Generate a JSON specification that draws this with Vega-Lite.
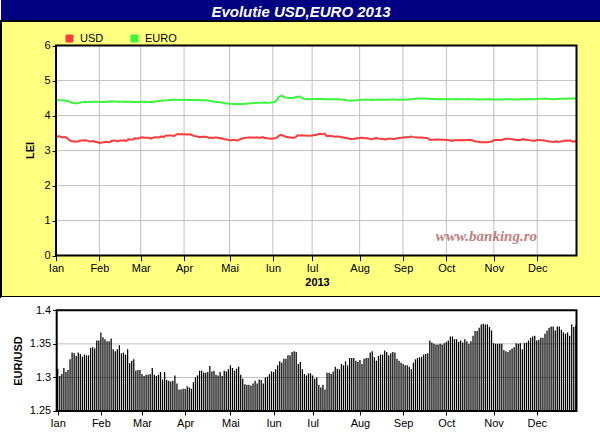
{
  "$schema": "https://vega.github.io/schema/vega-lite/v6.json",
  "padding": 0,
  "autosize": {"type": "pad"},
  "background": "#ffffff",
  "spacing": 0,
  "bounds": "flush",
  "config": {
    "view": {"stroke": null},
    "font": "Liberation Sans",
    "axis": {
      "domain": false, "grid": false,
      "labelFont": "Liberation Sans", "labelFontSize": 11, "labelColor": "#000000",
      "tickColor": "#000000", "tickWidth": 1, "tickSize": 4, "labelPadding": 2,
      "titleFont": "Liberation Sans", "titleFontSize": 11, "titleFontWeight": "bold", "titleColor": "#000000"
    }
  },
  "datasets": {
    "fx": [
      {"i":0,"USD":3.384,"EURO":4.443,"EURUSD":1.313},{"i":1,"USD":3.411,"EURO":4.441,"EURUSD":1.302},{"i":2,"USD":3.401,"EURO":4.438,"EURUSD":1.305},{"i":3,"USD":3.377,"EURO":4.437,"EURUSD":1.314},{"i":4,"USD":3.388,"EURO":4.432,"EURUSD":1.308},{"i":5,"USD":3.375,"EURO":4.425,"EURUSD":1.311},{"i":6,"USD":3.323,"EURO":4.410,"EURUSD":1.327},{"i":7,"USD":3.280,"EURO":4.385,"EURUSD":1.337},{"i":8,"USD":3.263,"EURO":4.360,"EURUSD":1.336},{"i":9,"USD":3.266,"EURO":4.350,"EURUSD":1.332},
      {"i":10,"USD":3.255,"EURO":4.352,"EURUSD":1.337},{"i":11,"USD":3.267,"EURO":4.362,"EURUSD":1.335},{"i":12,"USD":3.287,"EURO":4.375,"EURUSD":1.331},{"i":13,"USD":3.287,"EURO":4.385,"EURUSD":1.334},{"i":14,"USD":3.293,"EURO":4.390,"EURUSD":1.333},{"i":15,"USD":3.292,"EURO":4.388,"EURUSD":1.333},{"i":16,"USD":3.263,"EURO":4.386,"EURUSD":1.344},{"i":17,"USD":3.265,"EURO":4.392,"EURUSD":1.345},{"i":18,"USD":3.273,"EURO":4.396,"EURUSD":1.343},{"i":19,"USD":3.246,"EURO":4.398,"EURUSD":1.355},
      {"i":20,"USD":3.244,"EURO":4.395,"EURUSD":1.355},{"i":21,"USD":3.213,"EURO":4.392,"EURUSD":1.367},{"i":22,"USD":3.228,"EURO":4.390,"EURUSD":1.360},{"i":23,"USD":3.237,"EURO":4.392,"EURUSD":1.357},{"i":24,"USD":3.246,"EURO":4.395,"EURUSD":1.354},{"i":25,"USD":3.248,"EURO":4.398,"EURUSD":1.354},{"i":26,"USD":3.240,"EURO":4.400,"EURUSD":1.358},{"i":27,"USD":3.280,"EURO":4.402,"EURUSD":1.342},{"i":28,"USD":3.289,"EURO":4.404,"EURUSD":1.339},{"i":29,"USD":3.279,"EURO":4.400,"EURUSD":1.342},
      {"i":30,"USD":3.263,"EURO":4.398,"EURUSD":1.348},{"i":31,"USD":3.291,"EURO":4.397,"EURUSD":1.336},{"i":32,"USD":3.287,"EURO":4.395,"EURUSD":1.337},{"i":33,"USD":3.293,"EURO":4.393,"EURUSD":1.334},{"i":34,"USD":3.273,"EURO":4.392,"EURUSD":1.342},{"i":35,"USD":3.326,"EURO":4.393,"EURUSD":1.321},{"i":36,"USD":3.317,"EURO":4.395,"EURUSD":1.325},{"i":37,"USD":3.310,"EURO":4.392,"EURUSD":1.327},{"i":38,"USD":3.351,"EURO":4.390,"EURUSD":1.310},{"i":39,"USD":3.347,"EURO":4.388,"EURUSD":1.311},
      {"i":40,"USD":3.345,"EURO":4.385,"EURUSD":1.311},{"i":41,"USD":3.372,"EURO":4.400,"EURUSD":1.305},{"i":42,"USD":3.378,"EURO":4.398,"EURUSD":1.302},{"i":43,"USD":3.370,"EURO":4.395,"EURUSD":1.304},{"i":44,"USD":3.368,"EURO":4.392,"EURUSD":1.304},{"i":45,"USD":3.364,"EURO":4.390,"EURUSD":1.305},{"i":46,"USD":3.339,"EURO":4.388,"EURUSD":1.314},{"i":47,"USD":3.368,"EURO":4.392,"EURUSD":1.304},{"i":48,"USD":3.379,"EURO":4.400,"EURUSD":1.302},{"i":49,"USD":3.380,"EURO":4.408,"EURUSD":1.304},
      {"i":50,"USD":3.375,"EURO":4.415,"EURUSD":1.308},{"i":51,"USD":3.409,"EURO":4.422,"EURUSD":1.297},{"i":52,"USD":3.387,"EURO":4.430,"EURUSD":1.308},{"i":53,"USD":3.422,"EURO":4.435,"EURUSD":1.296},{"i":54,"USD":3.429,"EURO":4.440,"EURUSD":1.295},{"i":55,"USD":3.435,"EURO":4.445,"EURUSD":1.294},{"i":56,"USD":3.435,"EURO":4.448,"EURUSD":1.295},{"i":57,"USD":3.415,"EURO":4.450,"EURUSD":1.303},{"i":58,"USD":3.449,"EURO":4.452,"EURUSD":1.291},{"i":59,"USD":3.471,"EURO":4.450,"EURUSD":1.282},
      {"i":60,"USD":3.470,"EURO":4.448,"EURUSD":1.282},{"i":61,"USD":3.468,"EURO":4.450,"EURUSD":1.283},{"i":62,"USD":3.470,"EURO":4.452,"EURUSD":1.283},{"i":63,"USD":3.458,"EURO":4.450,"EURUSD":1.287},{"i":64,"USD":3.461,"EURO":4.448,"EURUSD":1.285},{"i":65,"USD":3.466,"EURO":4.447,"EURUSD":1.283},{"i":66,"USD":3.439,"EURO":4.446,"EURUSD":1.293},{"i":67,"USD":3.419,"EURO":4.445,"EURUSD":1.300},{"i":68,"USD":3.411,"EURO":4.444,"EURUSD":1.303},{"i":69,"USD":3.392,"EURO":4.443,"EURUSD":1.310},
      {"i":70,"USD":3.391,"EURO":4.442,"EURUSD":1.310},{"i":71,"USD":3.397,"EURO":4.440,"EURUSD":1.307},{"i":72,"USD":3.396,"EURO":4.438,"EURUSD":1.307},{"i":73,"USD":3.391,"EURO":4.435,"EURUSD":1.308},{"i":74,"USD":3.360,"EURO":4.425,"EURUSD":1.317},{"i":75,"USD":3.373,"EURO":4.415,"EURUSD":1.309},{"i":76,"USD":3.363,"EURO":4.405,"EURUSD":1.310},{"i":77,"USD":3.373,"EURO":4.398,"EURUSD":1.304},{"i":78,"USD":3.371,"EURO":4.392,"EURUSD":1.303},{"i":79,"USD":3.353,"EURO":4.385,"EURUSD":1.308},
      {"i":80,"USD":3.360,"EURO":4.375,"EURUSD":1.302},{"i":81,"USD":3.332,"EURO":4.365,"EURUSD":1.310},{"i":82,"USD":3.327,"EURO":4.355,"EURUSD":1.309},{"i":83,"USD":3.314,"EURO":4.348,"EURUSD":1.312},{"i":84,"USD":3.293,"EURO":4.340,"EURUSD":1.318},{"i":85,"USD":3.299,"EURO":4.335,"EURUSD":1.314},{"i":86,"USD":3.307,"EURO":4.332,"EURUSD":1.310},{"i":87,"USD":3.298,"EURO":4.330,"EURUSD":1.313},{"i":88,"USD":3.290,"EURO":4.330,"EURUSD":1.316},{"i":89,"USD":3.322,"EURO":4.332,"EURUSD":1.304},
      {"i":90,"USD":3.340,"EURO":4.335,"EURUSD":1.298},{"i":91,"USD":3.363,"EURO":4.338,"EURUSD":1.290},{"i":92,"USD":3.367,"EURO":4.340,"EURUSD":1.289},{"i":93,"USD":3.371,"EURO":4.345,"EURUSD":1.289},{"i":94,"USD":3.377,"EURO":4.350,"EURUSD":1.288},{"i":95,"USD":3.373,"EURO":4.355,"EURUSD":1.291},{"i":96,"USD":3.367,"EURO":4.360,"EURUSD":1.295},{"i":97,"USD":3.379,"EURO":4.362,"EURUSD":1.291},{"i":98,"USD":3.365,"EURO":4.365,"EURUSD":1.297},{"i":99,"USD":3.370,"EURO":4.368,"EURUSD":1.296},
      {"i":100,"USD":3.385,"EURO":4.370,"EURUSD":1.291},{"i":101,"USD":3.363,"EURO":4.372,"EURUSD":1.300},{"i":102,"USD":3.359,"EURO":4.370,"EURUSD":1.301},{"i":103,"USD":3.347,"EURO":4.368,"EURUSD":1.305},{"i":104,"USD":3.340,"EURO":4.372,"EURUSD":1.309},{"i":105,"USD":3.347,"EURO":4.378,"EURUSD":1.308},{"i":106,"USD":3.350,"EURO":4.395,"EURUSD":1.312},{"i":107,"USD":3.376,"EURO":4.450,"EURUSD":1.318},{"i":108,"USD":3.429,"EURO":4.540,"EURUSD":1.324},{"i":109,"USD":3.453,"EURO":4.565,"EURUSD":1.322},
      {"i":110,"USD":3.422,"EURO":4.545,"EURUSD":1.328},{"i":111,"USD":3.404,"EURO":4.520,"EURUSD":1.328},{"i":112,"USD":3.383,"EURO":4.510,"EURUSD":1.333},{"i":113,"USD":3.380,"EURO":4.505,"EURUSD":1.333},{"i":114,"USD":3.367,"EURO":4.505,"EURUSD":1.338},{"i":115,"USD":3.368,"EURO":4.510,"EURUSD":1.339},{"i":116,"USD":3.382,"EURO":4.525,"EURUSD":1.338},{"i":117,"USD":3.439,"EURO":4.540,"EURUSD":1.320},{"i":118,"USD":3.435,"EURO":4.545,"EURUSD":1.323},{"i":119,"USD":3.438,"EURO":4.510,"EURUSD":1.312},
      {"i":120,"USD":3.433,"EURO":4.480,"EURUSD":1.305},{"i":121,"USD":3.431,"EURO":4.470,"EURUSD":1.303},{"i":122,"USD":3.421,"EURO":4.468,"EURUSD":1.306},{"i":123,"USD":3.423,"EURO":4.470,"EURUSD":1.306},{"i":124,"USD":3.432,"EURO":4.472,"EURUSD":1.303},{"i":125,"USD":3.447,"EURO":4.474,"EURUSD":1.298},{"i":126,"USD":3.443,"EURO":4.476,"EURUSD":1.300},{"i":127,"USD":3.474,"EURO":4.478,"EURUSD":1.289},{"i":128,"USD":3.482,"EURO":4.475,"EURUSD":1.285},{"i":129,"USD":3.470,"EURO":4.473,"EURUSD":1.289},
      {"i":130,"USD":3.487,"EURO":4.470,"EURUSD":1.282},{"i":131,"USD":3.419,"EURO":4.468,"EURUSD":1.307},{"i":132,"USD":3.416,"EURO":4.465,"EURUSD":1.307},{"i":133,"USD":3.422,"EURO":4.466,"EURUSD":1.305},{"i":134,"USD":3.413,"EURO":4.468,"EURUSD":1.309},{"i":135,"USD":3.397,"EURO":4.470,"EURUSD":1.316},{"i":136,"USD":3.403,"EURO":4.468,"EURUSD":1.313},{"i":137,"USD":3.403,"EURO":4.465,"EURUSD":1.312},{"i":138,"USD":3.380,"EURO":4.462,"EURUSD":1.320},{"i":139,"USD":3.380,"EURO":4.455,"EURUSD":1.318},
      {"i":140,"USD":3.357,"EURO":4.445,"EURUSD":1.324},{"i":141,"USD":3.365,"EURO":4.435,"EURUSD":1.318},{"i":142,"USD":3.332,"EURO":4.428,"EURUSD":1.329},{"i":143,"USD":3.330,"EURO":4.425,"EURUSD":1.329},{"i":144,"USD":3.332,"EURO":4.428,"EURUSD":1.329},{"i":145,"USD":3.347,"EURO":4.435,"EURUSD":1.325},{"i":146,"USD":3.358,"EURO":4.442,"EURUSD":1.323},{"i":147,"USD":3.354,"EURO":4.448,"EURUSD":1.326},{"i":148,"USD":3.371,"EURO":4.450,"EURUSD":1.320},{"i":149,"USD":3.352,"EURO":4.452,"EURUSD":1.328},
      {"i":150,"USD":3.352,"EURO":4.455,"EURUSD":1.329},{"i":151,"USD":3.350,"EURO":4.452,"EURUSD":1.329},{"i":152,"USD":3.328,"EURO":4.450,"EURUSD":1.337},{"i":153,"USD":3.322,"EURO":4.448,"EURUSD":1.339},{"i":154,"USD":3.347,"EURO":4.452,"EURUSD":1.330},{"i":155,"USD":3.362,"EURO":4.455,"EURUSD":1.325},{"i":156,"USD":3.347,"EURO":4.458,"EURUSD":1.332},{"i":157,"USD":3.340,"EURO":4.455,"EURUSD":1.334},{"i":158,"USD":3.337,"EURO":4.452,"EURUSD":1.334},{"i":159,"USD":3.321,"EURO":4.450,"EURUSD":1.340},
      {"i":160,"USD":3.327,"EURO":4.452,"EURUSD":1.338},{"i":161,"USD":3.342,"EURO":4.455,"EURUSD":1.333},{"i":162,"USD":3.337,"EURO":4.458,"EURUSD":1.336},{"i":163,"USD":3.333,"EURO":4.460,"EURUSD":1.338},{"i":164,"USD":3.334,"EURO":4.458,"EURUSD":1.337},{"i":165,"USD":3.355,"EURO":4.455,"EURUSD":1.328},{"i":166,"USD":3.360,"EURO":4.452,"EURUSD":1.325},{"i":167,"USD":3.370,"EURO":4.455,"EURUSD":1.322},{"i":168,"USD":3.375,"EURO":4.455,"EURUSD":1.320},{"i":169,"USD":3.382,"EURO":4.458,"EURUSD":1.318},
      {"i":170,"USD":3.384,"EURO":4.460,"EURUSD":1.318},{"i":171,"USD":3.391,"EURO":4.462,"EURUSD":1.316},{"i":172,"USD":3.405,"EURO":4.468,"EURUSD":1.312},{"i":173,"USD":3.385,"EURO":4.475,"EURUSD":1.322},{"i":174,"USD":3.378,"EURO":4.482,"EURUSD":1.327},{"i":175,"USD":3.377,"EURO":4.488,"EURUSD":1.329},{"i":176,"USD":3.376,"EURO":4.490,"EURUSD":1.330},{"i":177,"USD":3.375,"EURO":4.492,"EURUSD":1.331},{"i":178,"USD":3.366,"EURO":4.490,"EURUSD":1.334},{"i":179,"USD":3.362,"EURO":4.488,"EURUSD":1.335},
      {"i":180,"USD":3.357,"EURO":4.485,"EURUSD":1.336},{"i":181,"USD":3.306,"EURO":4.480,"EURUSD":1.355},{"i":182,"USD":3.310,"EURO":4.475,"EURUSD":1.352},{"i":183,"USD":3.313,"EURO":4.472,"EURUSD":1.350},{"i":184,"USD":3.314,"EURO":4.470,"EURUSD":1.349},{"i":185,"USD":3.314,"EURO":4.470,"EURUSD":1.349},{"i":186,"USD":3.313,"EURO":4.472,"EURUSD":1.350},{"i":187,"USD":3.314,"EURO":4.470,"EURUSD":1.349},{"i":188,"USD":3.307,"EURO":4.468,"EURUSD":1.351},{"i":189,"USD":3.304,"EURO":4.470,"EURUSD":1.353},
      {"i":190,"USD":3.300,"EURO":4.472,"EURUSD":1.355},{"i":191,"USD":3.284,"EURO":4.470,"EURUSD":1.361},{"i":192,"USD":3.283,"EURO":4.468,"EURUSD":1.361},{"i":193,"USD":3.294,"EURO":4.470,"EURUSD":1.357},{"i":194,"USD":3.296,"EURO":4.472,"EURUSD":1.357},{"i":195,"USD":3.304,"EURO":4.470,"EURUSD":1.353},{"i":196,"USD":3.297,"EURO":4.468,"EURUSD":1.355},{"i":197,"USD":3.303,"EURO":4.465,"EURUSD":1.352},{"i":198,"USD":3.293,"EURO":4.468,"EURUSD":1.357},{"i":199,"USD":3.301,"EURO":4.470,"EURUSD":1.354},
      {"i":200,"USD":3.313,"EURO":4.472,"EURUSD":1.350},{"i":201,"USD":3.301,"EURO":4.470,"EURUSD":1.354},{"i":202,"USD":3.280,"EURO":4.468,"EURUSD":1.362},{"i":203,"USD":3.262,"EURO":4.465,"EURUSD":1.369},{"i":204,"USD":3.259,"EURO":4.462,"EURUSD":1.369},{"i":205,"USD":3.246,"EURO":4.460,"EURUSD":1.374},{"i":206,"USD":3.236,"EURO":4.462,"EURUSD":1.379},{"i":207,"USD":3.236,"EURO":4.465,"EURUSD":1.380},{"i":208,"USD":3.240,"EURO":4.468,"EURUSD":1.379},{"i":209,"USD":3.241,"EURO":4.470,"EURUSD":1.379},
      {"i":210,"USD":3.250,"EURO":4.468,"EURUSD":1.375},{"i":211,"USD":3.259,"EURO":4.465,"EURUSD":1.370},{"i":212,"USD":3.303,"EURO":4.462,"EURUSD":1.351},{"i":213,"USD":3.304,"EURO":4.460,"EURUSD":1.350},{"i":214,"USD":3.302,"EURO":4.458,"EURUSD":1.350},{"i":215,"USD":3.304,"EURO":4.460,"EURUSD":1.350},{"i":216,"USD":3.305,"EURO":4.462,"EURUSD":1.350},{"i":217,"USD":3.330,"EURO":4.465,"EURUSD":1.341},{"i":218,"USD":3.337,"EURO":4.468,"EURUSD":1.339},{"i":219,"USD":3.341,"EURO":4.470,"EURUSD":1.338},
      {"i":220,"USD":3.332,"EURO":4.468,"EURUSD":1.341},{"i":221,"USD":3.325,"EURO":4.465,"EURUSD":1.343},{"i":222,"USD":3.318,"EURO":4.462,"EURUSD":1.345},{"i":223,"USD":3.301,"EURO":4.460,"EURUSD":1.351},{"i":224,"USD":3.305,"EURO":4.462,"EURUSD":1.350},{"i":225,"USD":3.305,"EURO":4.465,"EURUSD":1.351},{"i":226,"USD":3.329,"EURO":4.468,"EURUSD":1.342},{"i":227,"USD":3.309,"EURO":4.470,"EURUSD":1.351},{"i":228,"USD":3.308,"EURO":4.472,"EURUSD":1.352},{"i":229,"USD":3.299,"EURO":4.470,"EURUSD":1.355},
      {"i":230,"USD":3.288,"EURO":4.468,"EURUSD":1.359},{"i":231,"USD":3.284,"EURO":4.470,"EURUSD":1.361},{"i":232,"USD":3.283,"EURO":4.472,"EURUSD":1.362},{"i":233,"USD":3.303,"EURO":4.475,"EURUSD":1.355},{"i":234,"USD":3.302,"EURO":4.478,"EURUSD":1.356},{"i":235,"USD":3.297,"EURO":4.480,"EURUSD":1.359},{"i":236,"USD":3.298,"EURO":4.482,"EURUSD":1.359},{"i":237,"USD":3.282,"EURO":4.480,"EURUSD":1.365},{"i":238,"USD":3.269,"EURO":4.478,"EURUSD":1.370},{"i":239,"USD":3.257,"EURO":4.475,"EURUSD":1.374},
      {"i":240,"USD":3.250,"EURO":4.472,"EURUSD":1.376},{"i":241,"USD":3.249,"EURO":4.470,"EURUSD":1.376},{"i":242,"USD":3.264,"EURO":4.472,"EURUSD":1.370},{"i":243,"USD":3.252,"EURO":4.475,"EURUSD":1.376},{"i":244,"USD":3.254,"EURO":4.478,"EURUSD":1.376},{"i":245,"USD":3.268,"EURO":4.480,"EURUSD":1.371},{"i":246,"USD":3.279,"EURO":4.482,"EURUSD":1.367},{"i":247,"USD":3.286,"EURO":4.485,"EURUSD":1.365},{"i":248,"USD":3.283,"EURO":4.488,"EURUSD":1.367},{"i":249,"USD":3.297,"EURO":4.490,"EURUSD":1.362},
      {"i":250,"USD":3.257,"EURO":4.492,"EURUSD":1.379},{"i":251,"USD":3.269,"EURO":4.495,"EURUSD":1.375},{"i":252,"USD":3.262,"EURO":4.492,"EURUSD":1.377}
    ]
  },
  "vconcat": [
    {
      "width": 600,
      "height": 21,
      "view": {"fill": "#000080", "stroke": null},
      "data": {"values": [{"t": "Evolutie USD,EURO 2013"}]},
      "mark": {"type": "text", "font": "Liberation Sans", "fontSize": 15, "fontWeight": "bold", "fontStyle": "italic", "color": "#ffffff", "align": "center", "baseline": "middle", "dy": 1},
      "encoding": {"text": {"field": "t"}}
    },
    {
      "width": 600,
      "height": 276,
      "view": {"fill": "#ffff80", "stroke": "#000000", "strokeWidth": 2},
      "layer": [
        {
          "data": {"values": [{}]},
          "mark": {"type": "rect", "color": "#ffffff"},
          "encoding": {
            "x": {"datum": 0, "type": "quantitative", "scale": {"domain": [-26.63, 263.86], "nice": false, "zero": false, "padding": 0}},
            "x2": {"datum": 252},
            "y": {"datum": 0, "type": "quantitative", "scale": {"domain": [-1.183, 6.703], "nice": false, "zero": false, "padding": 0}},
            "y2": {"datum": 6}
          }
        },
        {
          "data": {"values": [{"m": 21}, {"m": 41}, {"m": 62}, {"m": 84}, {"m": 105}, {"m": 124}, {"m": 147}, {"m": 168}, {"m": 189}, {"m": 212}, {"m": 233}]},
          "mark": {"type": "rule", "color": "#c0c0c0", "strokeWidth": 1},
          "encoding": {
            "x": {"field": "m", "type": "quantitative", "scale": {"domain": [-26.63, 263.86], "nice": false, "zero": false, "padding": 0}},
            "y": {"datum": 0, "type": "quantitative", "scale": {"domain": [-1.183, 6.703], "nice": false, "zero": false, "padding": 0}},
            "y2": {"datum": 6}
          }
        },
        {
          "data": {"values": [{"g": 1}, {"g": 2}, {"g": 3}, {"g": 4}, {"g": 5}]},
          "mark": {"type": "rule", "color": "#c0c0c0", "strokeWidth": 1},
          "encoding": {
            "y": {"field": "g", "type": "quantitative", "scale": {"domain": [-1.183, 6.703], "nice": false, "zero": false, "padding": 0}},
            "x": {"datum": 0, "type": "quantitative", "scale": {"domain": [-26.63, 263.86], "nice": false, "zero": false, "padding": 0}},
            "x2": {"datum": 252}
          }
        },
        {
          "data": {"name": "fx"},
          "transform": [{"fold": ["USD", "EURO"], "as": ["serie", "val"]}],
          "mark": {"type": "line", "strokeWidth": 2},
          "encoding": {
            "x": {
              "field": "i", "type": "quantitative",
              "scale": {"domain": [-26.63, 263.86], "nice": false, "zero": false, "padding": 0},
              "axis": {
                "values": [0, 21, 41, 62, 84, 105, 124, 147, 168, 189, 212, 233],
                "labelExpr": "datum.value == 0 ? 'Ian' : datum.value == 21 ? 'Feb' : datum.value == 41 ? 'Mar' : datum.value == 62 ? 'Apr' : datum.value == 84 ? 'Mai' : datum.value == 105 ? 'Iun' : datum.value == 124 ? 'Iul' : datum.value == 147 ? 'Aug' : datum.value == 168 ? 'Sep' : datum.value == 189 ? 'Oct' : datum.value == 212 ? 'Nov' : 'Dec'",
                "offset": -41.4, "tickSize": 5, "labelFlush": false, "labelOverlap": false,
                "title": "2013", "titleX": 316, "titlePadding": 3
              }
            },
            "y": {
              "field": "val", "type": "quantitative",
              "scale": {"domain": [-1.183, 6.703], "nice": false, "zero": false, "padding": 0},
              "axis": {"values": [0, 1, 2, 3, 4, 5, 6], "offset": -55, "title": "LEI", "titleY": 129, "titlePadding": 8}
            },
            "color": {
              "field": "serie", "type": "nominal",
              "scale": {"domain": ["USD", "EURO"], "range": ["#ff3c3c", "#3cf53c"]},
              "legend": {
                "title": null, "orient": "none", "legendX": 63, "legendY": 33, "direction": "horizontal",
                "symbolType": "square", "symbolSize": 49, "labelOffset": 5, "columnPadding": 25, "padding": 0,
                "labelFont": "Liberation Sans", "labelFontSize": 11, "labelColor": "#000000",
                "encode": {"symbols": {"update": {"fill": {"scale": "color", "field": "value"}, "stroke": {"value": "#333333"}, "strokeWidth": {"value": 1}, "opacity": {"value": 1}}}}
              }
            }
          }
        },
        {
          "data": {"values": [{"w": "www.banking.ro"}]},
          "mark": {"type": "text", "font": "Liberation Serif", "fontSize": 15, "fontWeight": "bold", "fontStyle": "italic", "color": "#c08080", "align": "center", "baseline": "alphabetic"},
          "encoding": {
            "x": {"datum": 208.4, "type": "quantitative", "scale": {"domain": [-26.63, 263.86], "nice": false, "zero": false, "padding": 0}},
            "y": {"datum": 0.41, "type": "quantitative", "scale": {"domain": [-1.183, 6.703], "nice": false, "zero": false, "padding": 0}},
            "text": {"field": "w"}
          }
        },
        {
          "data": {"values": [{}]},
          "mark": {"type": "rect", "filled": false, "color": "#000000", "strokeWidth": 2},
          "encoding": {
            "x": {"datum": 0, "type": "quantitative", "scale": {"domain": [-26.63, 263.86], "nice": false, "zero": false, "padding": 0}},
            "x2": {"datum": 252},
            "y": {"datum": 0, "type": "quantitative", "scale": {"domain": [-1.183, 6.703], "nice": false, "zero": false, "padding": 0}},
            "y2": {"datum": 6}
          }
        }
      ]
    },
    {
      "width": 600,
      "height": 143,
      "view": {"fill": "#ffffff", "stroke": null},
      "layer": [
        {
          "data": {"values": [{"g": 1.3}, {"g": 1.35}]},
          "mark": {"type": "rule", "color": "#c0c0c0", "strokeWidth": 1},
          "encoding": {
            "y": {"field": "g", "type": "quantitative", "scale": {"domain": [1.2068, 1.4198], "nice": false, "zero": false, "padding": 0}},
            "x": {"datum": -0.49, "type": "quantitative", "scale": {"domain": [-27.58, 264.25], "nice": false, "zero": false, "padding": 0}},
            "x2": {"datum": 252.33}
          }
        },
        {
          "data": {"name": "fx"},
          "mark": {"type": "bar", "size": 1.25, "color": "#000000"},
          "encoding": {
            "x": {
              "field": "i", "type": "quantitative",
              "scale": {"domain": [-27.58, 264.25], "nice": false, "zero": false, "padding": 0},
              "axis": {
                "values": [0, 21, 41, 62, 84, 105, 124, 147, 168, 189, 212, 233],
                "labelExpr": "datum.value == 0 ? 'Ian' : datum.value == 21 ? 'Feb' : datum.value == 41 ? 'Mar' : datum.value == 62 ? 'Apr' : datum.value == 84 ? 'Mai' : datum.value == 105 ? 'Iun' : datum.value == 124 ? 'Iul' : datum.value == 147 ? 'Aug' : datum.value == 168 ? 'Sep' : datum.value == 189 ? 'Oct' : datum.value == 212 ? 'Nov' : 'Dec'",
                "offset": -29, "tickSize": 4, "labelFlush": false, "labelOverlap": false, "title": null
              }
            },
            "y": {
              "field": "EURUSD", "type": "quantitative",
              "scale": {"domain": [1.2068, 1.4198], "nice": false, "zero": false, "padding": 0},
              "axis": {"values": [1.25, 1.3, 1.35, 1.4], "format": "~g", "offset": -55.7, "title": "EUR/USD", "titleY": 63.5, "titlePadding": 6}
            },
            "y2": {"datum": 1.25}
          }
        },
        {
          "data": {"values": [{}]},
          "mark": {"type": "rect", "filled": false, "color": "#000000", "strokeWidth": 2},
          "encoding": {
            "x": {"datum": -0.49, "type": "quantitative", "scale": {"domain": [-27.58, 264.25], "nice": false, "zero": false, "padding": 0}},
            "x2": {"datum": 252.33},
            "y": {"datum": 1.25, "type": "quantitative", "scale": {"domain": [1.2068, 1.4198], "nice": false, "zero": false, "padding": 0}},
            "y2": {"datum": 1.4}
          }
        }
      ]
    }
  ]
}
